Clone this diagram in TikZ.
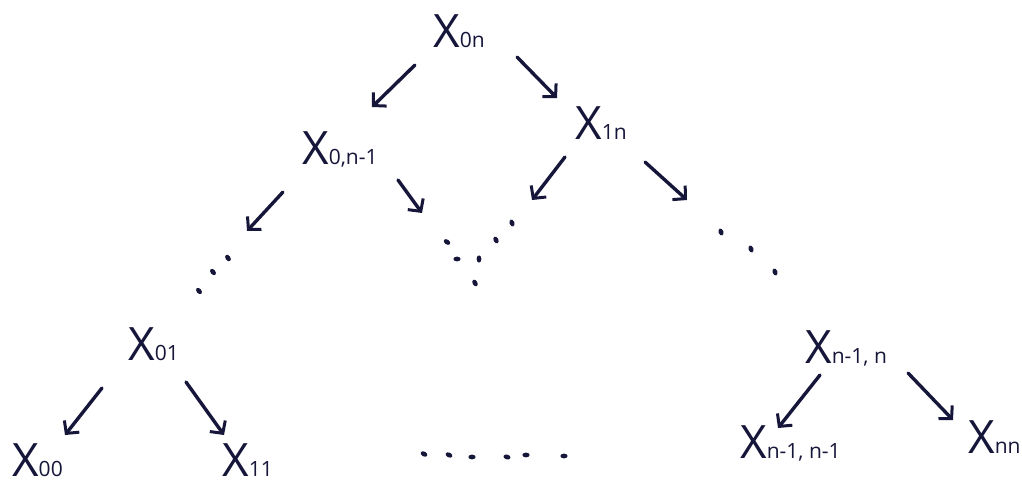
\documentclass[tikz,border=0pt]{standalone}
\usepackage{fontspec}
\setmainfont{Open Sans}
\usetikzlibrary{arrows.meta}
\definecolor{ink}{HTML}{16163A}
\newcommand{\xlab}[1]{X{\fontsize{21}{21}\selectfont #1}}
\begin{document}
\begin{tikzpicture}[x=1pt,y=-1pt,
  lab/.style={inner sep=0pt, text depth=0pt, anchor=base west, text=ink, font=\fontsize{46}{50}\selectfont},
  arr/.style={draw=ink, line width=3.4pt, line cap=round,
    -{Straight Barb[length=9pt,width=19pt,line width=3pt]}},
  dotm/.style={fill=ink}]
\useasboundingbox[fill=white] (0,0) rectangle (1022,486);
% nodes
\node[lab] (X0n)   at (433,48)  {\xlab{0n}};
\node[lab] (X1n)   at (575,140) {\xlab{1n}};
\node[lab] (X0n1)  at (302,165) {\xlab{0,n-1}};
\node[lab] (X01)   at (128,360) {\xlab{01}};
\node[lab] (X00)   at (12,476)  {\xlab{00}};
\node[lab] (X11)   at (222,476) {\xlab{11}};
\node[lab] (Xn1n)  at (805,363) {\xlab{n-1, n}};
\node[lab] (Xn1n1) at (740,458) {\xlab{n-1, n-1}};
\node[lab] (Xnn)   at (968,453) {\xlab{nn}};
% free ends
\coordinate (L1) at (247,231);
\coordinate (M1) at (422,213);
\coordinate (M2) at (532,200);
\coordinate (R1) at (687,200);
% arrows
\draw[arr] ([shift={(-18,17)}]X0n.base west) -- ([shift={(70,-58)}]X0n1.base west);
\draw[arr] ([shift={(84,9)}]X0n.base west) -- ([shift={(-18,-42)}]X1n.base west);
\draw[arr] ([shift={(-19,27)}]X0n1.base west) -- (L1);
\draw[arr] ([shift={(96,15)}]X0n1.base west) -- (M1);
\draw[arr] ([shift={(-10,17)}]X1n.base west) -- (M2);
\draw[arr] ([shift={(70,22)}]X1n.base west) -- (R1);
\draw[arr] ([shift={(-26,28)}]X01.base west) -- ([shift={(53,-41)}]X00.base west);
\draw[arr] ([shift={(58,22)}]X01.base west) -- ([shift={(2,-41)}]X11.base west);
\draw[arr] ([shift={(15,12)}]Xn1n.base west) -- ([shift={(38,-30)}]Xn1n1.base west);
\draw[arr] ([shift={(103,10)}]Xn1n.base west) -- ([shift={(-15,-33)}]Xnn.base west);
% dots
\foreach \p/\r in {(228,258)/-55,(213,272)/-50,(199,291)/-50,
  (512,223)/-70,(496,240)/-65,(447,242)/-35,(457,259)/0,(479,259)/-90,(475,283)/-60,
  (721,232)/-70,(751,249)/-70,(775,272)/-70,
  (424,454)/-30,(449,455)/-25,(472,457)/0,(507,457)/-15,(526,455)/0,(564,456)/0}
  \fill[dotm, rotate around={\r:\p}] \p ellipse [x radius=3.6, y radius=2.4];
\end{tikzpicture}
\end{document}
